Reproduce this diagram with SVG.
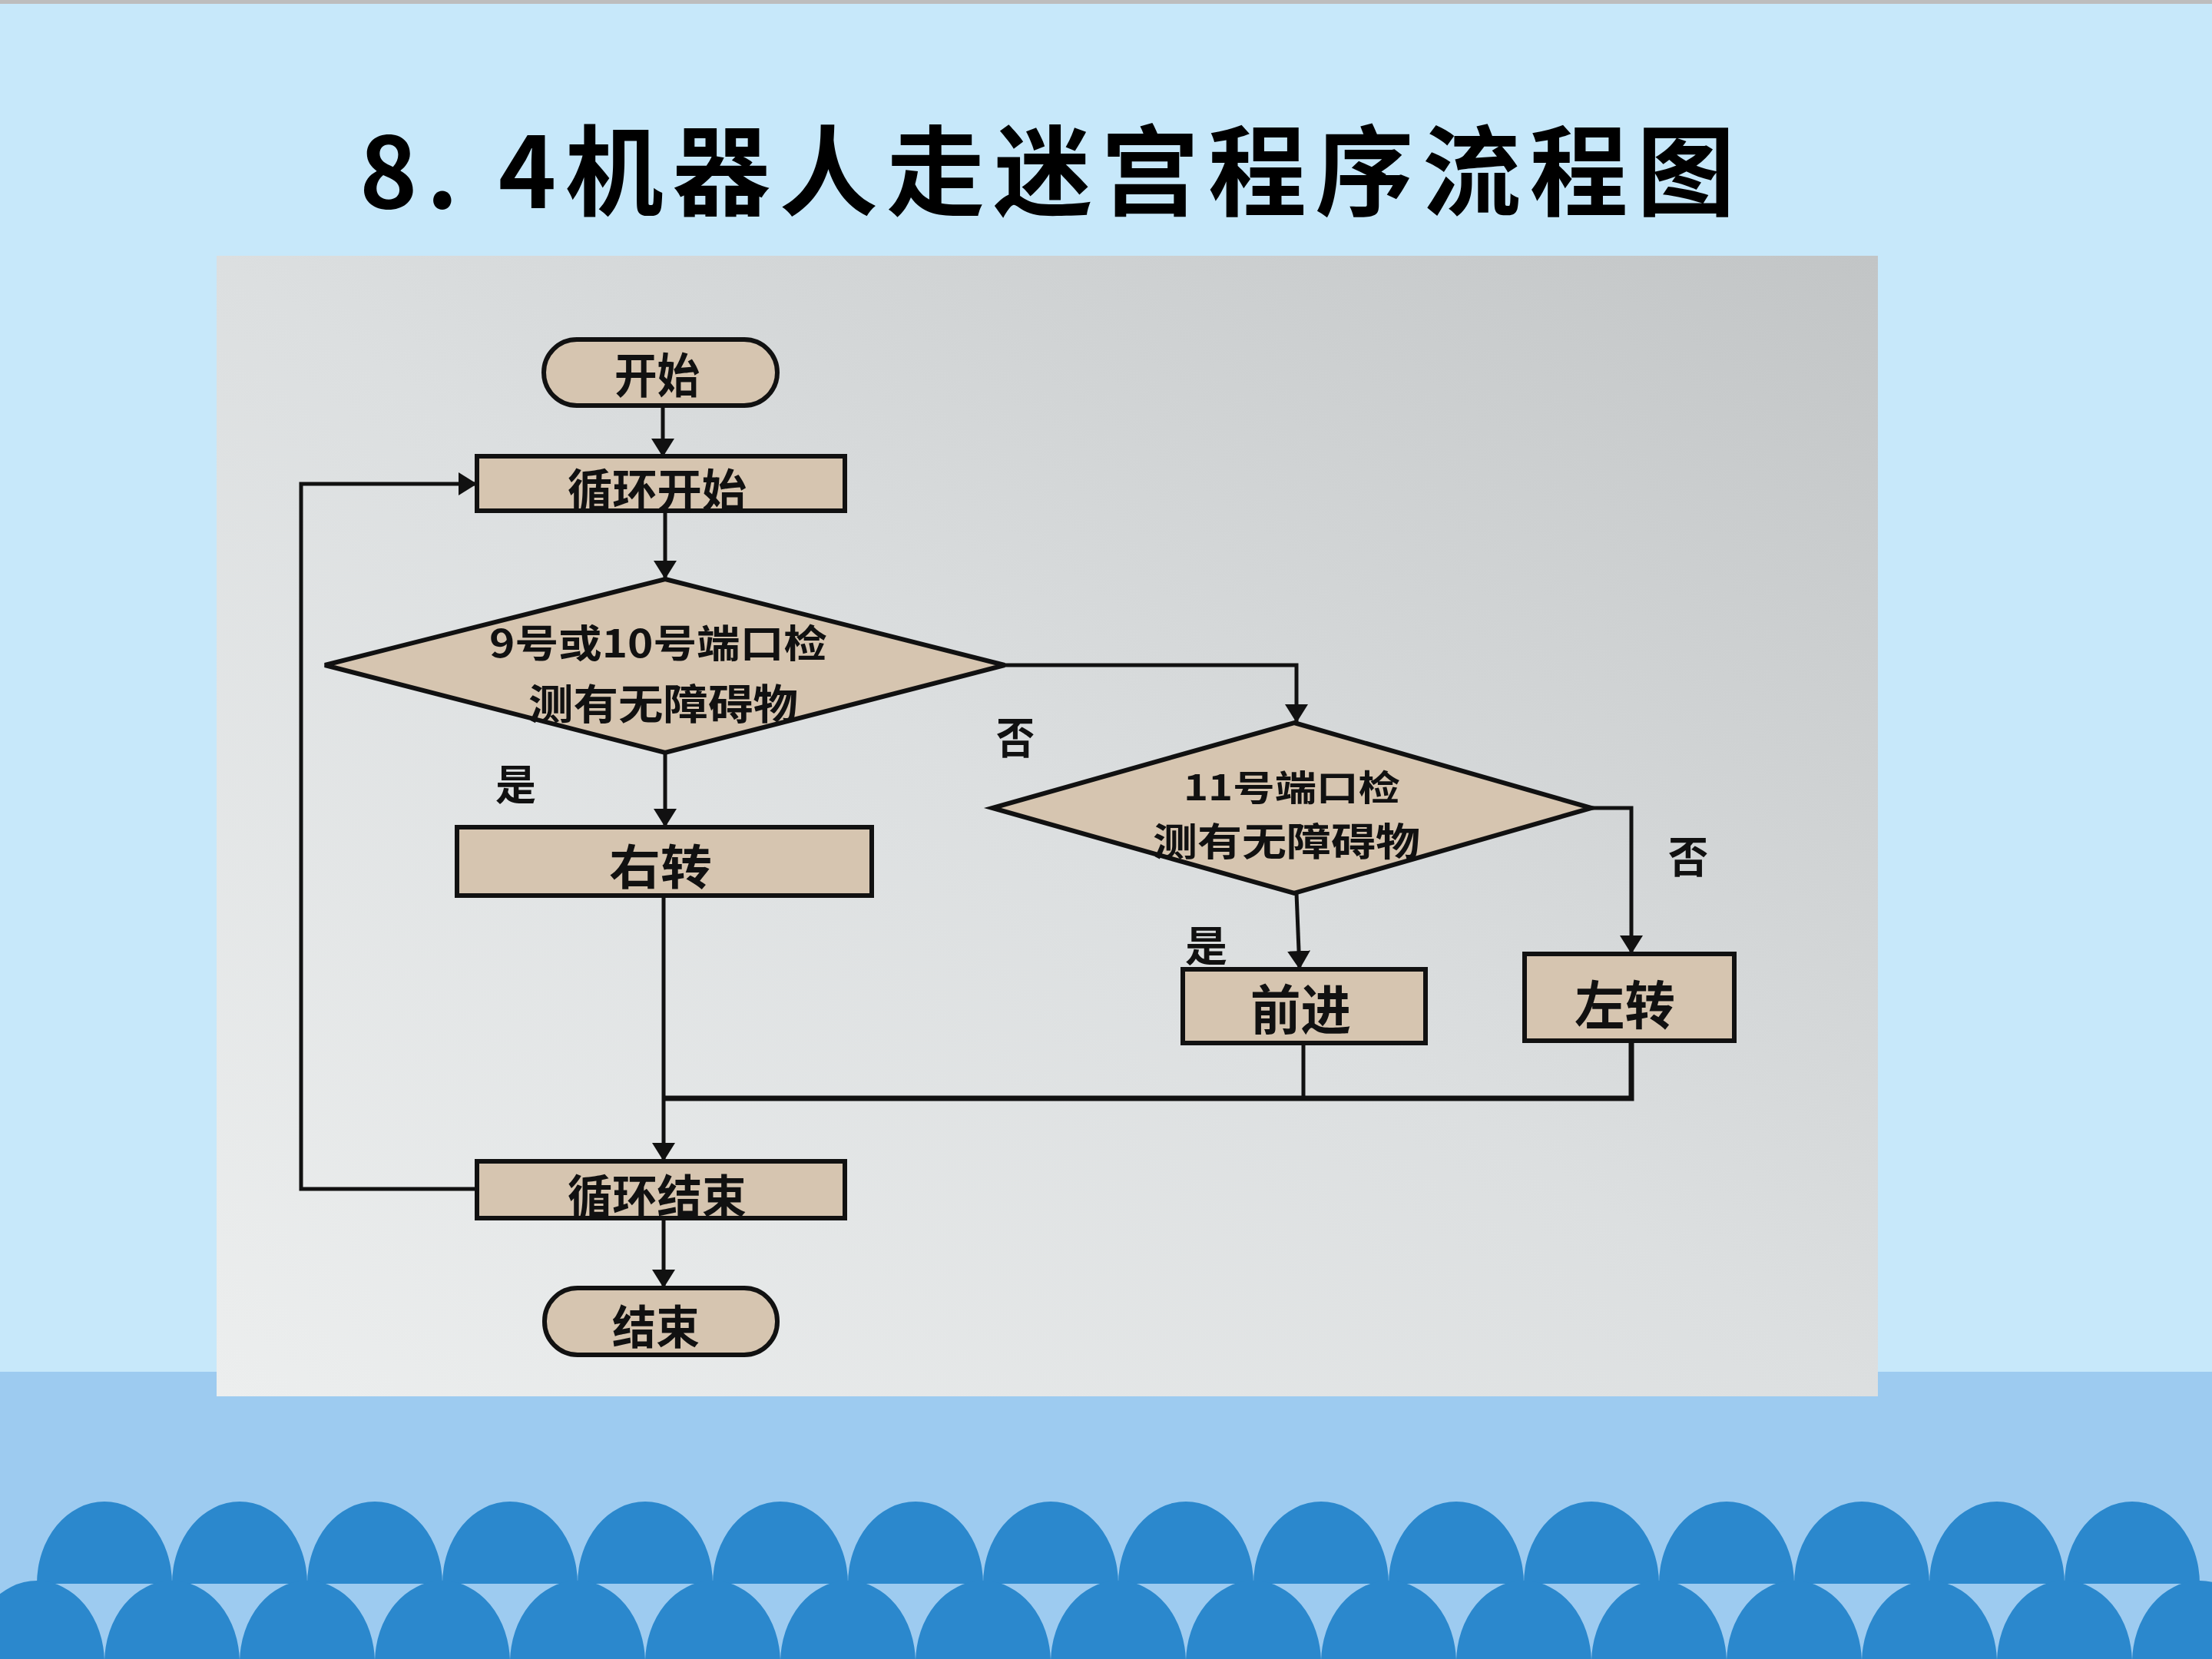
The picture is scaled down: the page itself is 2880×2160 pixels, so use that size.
<svg xmlns="http://www.w3.org/2000/svg" width="2880" height="2160" viewBox="0 0 2880 2160">
<defs>
<linearGradient id="photo" x1="0" y1="1" x2="1" y2="0">
<stop offset="0" stop-color="#ECEEEE"/>
<stop offset="0.5" stop-color="#DCDFE0"/>
<stop offset="1" stop-color="#C2C5C6"/>
</linearGradient>
<marker id="arr" viewBox="0 0 24 30" refX="24" refY="15" markerWidth="24" markerHeight="30" markerUnits="userSpaceOnUse" orient="auto">
<path d="M0,0 L24,15 L0,30 Z" fill="#111"/>
</marker>
<style>
.box{fill:#D6C5B0;stroke:#111;stroke-width:6}
.ln{fill:none;stroke:#111;stroke-width:5}
.t{font-family:"Noto Sans CJK SC","Noto Sans",sans-serif;font-weight:700;fill:#111;dominant-baseline:central}
.title{font-family:"Noto Sans CJK SC","Noto Sans",sans-serif;font-weight:700;fill:#000;dominant-baseline:central}
</style>
</defs>
<rect x="0" y="0" width="2880" height="2160" fill="#C7E8FA"/>
<rect x="0" y="0" width="2880" height="5" fill="#BDBDBD"/>
<rect x="0" y="1786" width="2880" height="374" fill="#9DCBF0"/>
<g id="scallops" fill="#2B88CD">
<path d="M48 2062a88 107 0 0 1 176 0zM224 2062a88 107 0 0 1 176 0zM400 2062a88 107 0 0 1 176 0zM576 2062a88 107 0 0 1 176 0zM752 2062a88 107 0 0 1 176 0zM928 2062a88 107 0 0 1 176 0zM1104 2062a88 107 0 0 1 176 0zM1280 2062a88 107 0 0 1 176 0zM1456 2062a88 107 0 0 1 176 0zM1632 2062a88 107 0 0 1 176 0zM1808 2062a88 107 0 0 1 176 0zM1984 2062a88 107 0 0 1 176 0zM2160 2062a88 107 0 0 1 176 0zM2336 2062a88 107 0 0 1 176 0zM2512 2062a88 107 0 0 1 176 0zM2688 2062a88 107 0 0 1 176 0z"/>
<path d="M-40 2165a88 107 0 0 1 176 0zM136 2165a88 107 0 0 1 176 0zM312 2165a88 107 0 0 1 176 0zM488 2165a88 107 0 0 1 176 0zM664 2165a88 107 0 0 1 176 0zM840 2165a88 107 0 0 1 176 0zM1016 2165a88 107 0 0 1 176 0zM1192 2165a88 107 0 0 1 176 0zM1368 2165a88 107 0 0 1 176 0zM1544 2165a88 107 0 0 1 176 0zM1720 2165a88 107 0 0 1 176 0zM1896 2165a88 107 0 0 1 176 0zM2072 2165a88 107 0 0 1 176 0zM2248 2165a88 107 0 0 1 176 0zM2424 2165a88 107 0 0 1 176 0zM2600 2165a88 107 0 0 1 176 0zM2776 2165a88 107 0 0 1 176 0z"/>
</g>
<text class="title" x="468" y="215" font-size="128" textLength="1791" lengthAdjust="spacing">8. 4机器人走迷宫程序流程图</text>
<rect x="282" y="333" width="2163" height="1485" fill="url(#photo)"/>
<g id="connectors">
<path class="ln" d="M863,528 L863,595" marker-end="url(#arr)"/>
<path class="ln" d="M866,665 L866,754" marker-end="url(#arr)"/>
<path class="ln" d="M866,980 L866,1077" marker-end="url(#arr)"/>
<path class="ln" d="M864,1166 L864,1512" marker-end="url(#arr)"/>
<path class="ln" d="M1308,866 L1688,866 L1688,941" marker-end="url(#arr)"/>
<path class="ln" d="M1688,1163 L1692,1262" marker-end="url(#arr)"/>
<path class="ln" d="M2072,1052 L2124,1052 L2124,1242" marker-end="url(#arr)"/>
<path class="ln" d="M1697,1358 L1697,1430"/>
<path class="ln" d="M2124,1355 L2124,1430 L864,1430" style="stroke-width:7"/>
<path class="ln" d="M621,1548 L392,1548 L392,630 L621,630" marker-end="url(#arr)"/>
<path class="ln" d="M864,1587 L864,1677" marker-end="url(#arr)"/>
</g>
<g id="n-start"><rect class="box" x="708" y="442" width="304" height="86" rx="43"/><text class="t" x="800" y="485" font-size="62" textLength="111" lengthAdjust="spacingAndGlyphs">开始</text></g>
<g id="n-loopstart"><rect class="box" x="621" y="594" width="479" height="71"/><text class="t" x="739" y="634" font-size="60" textLength="233" lengthAdjust="spacingAndGlyphs">循环开始</text></g>
<g id="n-d1"><polygon class="box" points="866,754 1308,866 866,980 423,866"/><text class="t" x="637" y="834" font-size="50" textLength="440" lengthAdjust="spacingAndGlyphs">9号或10号端口检</text><text class="t" x="688" y="913" font-size="54" textLength="351" lengthAdjust="spacingAndGlyphs">测有无障碍物</text></g>
<g id="n-right"><rect class="box" x="595" y="1077" width="540" height="89"/><text class="t" x="793" y="1125" font-size="62" textLength="134" lengthAdjust="spacingAndGlyphs">右转</text></g>
<g id="n-loopend"><rect class="box" x="621" y="1512" width="479" height="74"/><text class="t" x="739" y="1553" font-size="60" textLength="233" lengthAdjust="spacingAndGlyphs">循环结束</text></g>
<g id="n-end"><rect class="box" x="709" y="1677" width="303" height="87" rx="43"/><text class="t" x="797" y="1723" font-size="60" textLength="114" lengthAdjust="spacingAndGlyphs">结束</text></g>
<g id="n-d2"><polygon class="box" points="1685,941 2072,1052 1685,1163 1292,1052"/><text class="t" x="1541" y="1022" font-size="46" textLength="282" lengthAdjust="spacingAndGlyphs">11号端口检</text><text class="t" x="1501" y="1092" font-size="50" textLength="348" lengthAdjust="spacingAndGlyphs">测有无障碍物</text></g>
<g id="n-fwd"><rect class="box" x="1540" y="1262" width="316" height="96"/><text class="t" x="1628" y="1310" font-size="70" textLength="131" lengthAdjust="spacingAndGlyphs">前进</text></g>
<g id="n-left"><rect class="box" x="1985" y="1242" width="273" height="113"/><text class="t" x="2050" y="1304" font-size="68" textLength="131" lengthAdjust="spacingAndGlyphs">左转</text></g>
<g id="labels">
<text class="t" x="645" y="1018" font-size="54" textLength="53" lengthAdjust="spacingAndGlyphs">是</text>
<text class="t" x="1297" y="956" font-size="56" textLength="50" lengthAdjust="spacingAndGlyphs">否</text>
<text class="t" x="2172" y="1111" font-size="56" textLength="52" lengthAdjust="spacingAndGlyphs">否</text>
<text class="t" x="1543" y="1228" font-size="54" textLength="55" lengthAdjust="spacingAndGlyphs">是</text>
</g>
</svg>
